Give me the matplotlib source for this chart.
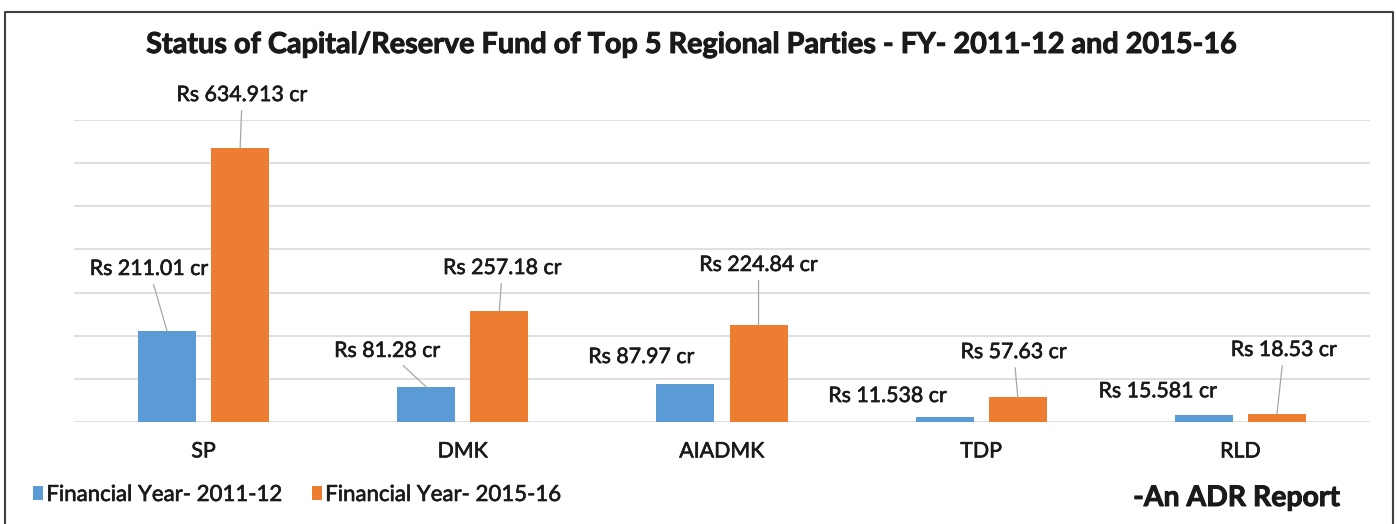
import numpy as np
import matplotlib
matplotlib.use('Agg')
import matplotlib.pyplot as plt
import matplotlib.patheffects as pe
from matplotlib.lines import Line2D

# data
parties = ['SP', 'DMK', 'AIADMK', 'TDP', 'RLD']
fy_2011_12 = [211.01, 81.28, 87.97, 11.538, 15.581]
fy_2015_16 = [634.913, 257.18, 224.84, 57.63, 18.53]
series_names = ['Financial Year- 2011-12', 'Financial Year- 2015-16']
title = 'Status of Capital/Reserve Fund of Top 5 Regional Parties - FY- 2011-12 and 2015-16'

# label placement (pixel offsets from bar top) and whether a leader line is drawn
off_a = [(-18, 62), (-39, 36), (-44, 27), (-57, 21), (-46, 24)]
lead_a = [True, True, False, False, False]
off_b = [(2, 53), (3, 43), (0, 60), (-4, 45), (7, 64)]
lead_b = [True, True, True, True, True]

BLUE = '#5B9BD5'
ORANGE = '#ED7D31'
TXT = '#1a1a1a'
W, H = 1397, 524
heavy = [pe.withStroke(linewidth=0.45, foreground=TXT)]  # Excel text looks a bit heavier
heavier = [pe.withStroke(linewidth=0.7, foreground=TXT)]

plt.rcParams['font.family'] = ['Lato', 'DejaVu Sans']

fig = plt.figure(figsize=(W / 100, H / 100), dpi=100)
fig.patch.set_facecolor('white')

ax = fig.add_axes([74 / W, 102 / H, (1370 - 74) / W, 302 / H])
x = np.arange(len(parties))
bw = 0.224
dx = 0.141
bars_a = ax.bar(x - dx, fy_2011_12, bw, color=BLUE, zorder=3)
bars_b = ax.bar(x + dx, fy_2015_16, bw, color=ORANGE, zorder=3)

ax.set_xlim(-0.5, len(parties) - 0.5)
ax.set_ylim(0, 700)
ax.set_yticks(np.arange(0, 701, 100))
ax.yaxis.grid(True, color='#d9d9d9', lw=1.2, zorder=0)
ax.set_yticklabels([])
ax.set_xticks(x)
ax.set_xticklabels(parties, color=TXT)
ax.tick_params(length=0, pad=14)
for s in ax.spines.values():
    s.set_visible(False)

renderer = fig.canvas.get_renderer()


def fit(t, target):
    w = t.get_window_extent(renderer=renderer).width
    t.set_fontsize(t.get_fontsize() * target / w)
    return t.get_fontsize()


# data labels
probe = fig.text(0, 0, 'Rs 634.913 cr', fontsize=14)
lab_fs = fit(probe, 131)
probe.remove()

def put_labels(xs, vals, offs, leads):
    for xi, v, o, ld in zip(xs, vals, offs, leads):
        ap = dict(arrowstyle='-', color='#a6a6a6', lw=0.9, shrinkA=2, shrinkB=0) if ld else None
        ax.annotate(f'Rs {v} cr', xy=(xi, v), xytext=o, textcoords='offset pixels',
                    ha='center', va='center', fontsize=lab_fs, color=TXT,
                    arrowprops=ap, zorder=5, path_effects=heavy)

put_labels(x - dx, fy_2011_12, off_a, lead_a)
put_labels(x + dx, fy_2015_16, off_b, lead_b)

# category labels, same size as the data labels
for t in ax.get_xticklabels():
    t.set_fontsize(lab_fs)
    t.set_path_effects(heavy)

# title
tt = fig.text(693 / W, 1 - 45 / H, title, ha='center', va='center',
              fontsize=18, weight='bold', color=TXT, path_effects=heavier)
fit(tt, 1092)

# legend
probe = fig.text(0, 0, series_names[0], fontsize=14)
leg_fs = fit(probe, 237)
probe.remove()
leg = ax.legend([bars_a, bars_b], series_names, loc='center left',
                bbox_to_anchor=(33 / W, 1 - 495 / H), bbox_transform=fig.transFigure,
                ncol=2, frameon=False, fontsize=leg_fs,
                handlelength=0.45, handleheight=0.55,
                handletextpad=0.15, columnspacing=1.3, borderpad=0, borderaxespad=0,
                labelcolor=TXT)
for t in leg.get_texts():
    t.set_path_effects(heavy)

# footer note
adr = fig.text((1133 + 1340) / 2 / W, 1 - 498 / H, '-An ADR Report', ha='center',
               va='center', fontsize=18, weight='bold', color=TXT, path_effects=heavier)
fit(adr, 207)

# outer frame (left, top, right)
fig.add_artist(Line2D([5 / W, 5 / W, 1393 / W, 1393 / W], [0, 1 - 12 / H, 1 - 12 / H, 0],
                      transform=fig.transFigure, color='#404040', lw=1.5))

fig.savefig('out.png', dpi=100)
